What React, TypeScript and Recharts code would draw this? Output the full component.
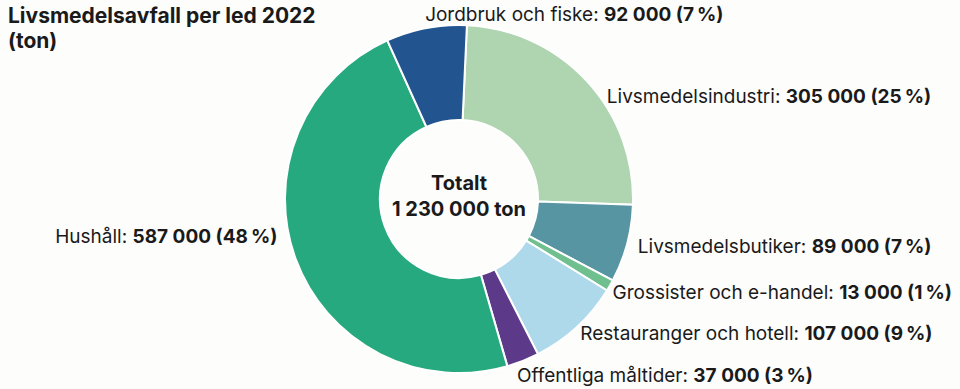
import { PieChart, Pie, Cell } from "recharts";

const categories = [
  "Livsmedelsindustri",
  "Livsmedelsbutiker",
  "Grossister och e-handel",
  "Restauranger och hotell",
  "Offentliga måltider",
  "Hushåll",
  "Jordbruk och fiske",
];
const tons = [305000, 89000, 13000, 107000, 37000, 587000, 92000];
const colors = ["#afd5b0", "#5895a3", "#70c08f", "#aed9ea", "#5c3a89", "#27a97f", "#22548f"];

// small nudges so the labels sit where the original has them
const labelNudge: [number, number][] = [
  [12, 23],
  [0, -1],
  [-7, 1],
  [-4, -2],
  [-10, 4],
  [-8, -27],
  [1, -3],
];

const total = tons.reduce((a, b) => a + b, 0);
const data = categories.map((name, i) => ({ name, value: tons[i] }));

const fmt = (n: number) => n.toLocaleString("en-US").replace(/,/g, "\u00a0");
const FONT = "Inter, 'Noto Sans', sans-serif";
const RAD = Math.PI / 180;

const renderLabel = (p: any) => {
  const { cx, cy, outerRadius, midAngle, index, value } = p;
  const r = outerRadius + 11;
  const left = index === 5;
  const x = cx + r * Math.cos(-midAngle * RAD) + labelNudge[index][0];
  const y = cy + r * Math.sin(-midAngle * RAD) + labelNudge[index][1];
  const pct = Math.round((value / total) * 100);
  return (
    <g>
      <text
        x={x}
        y={y}
        textAnchor={left ? "end" : "start"}
        dominantBaseline="central"
        fontFamily={FONT}
        fontSize={19}
        fill="#1a1a1a"
      >
        <tspan>{categories[index]}: </tspan>
        <tspan fontWeight={700}>
          {fmt(value)} ({pct}
          {"\u2009"}%)
        </tspan>
      </text>
      {index === 0 && (
        <g fontFamily={FONT} fontWeight={700} fontSize={20} fill="#1a1a1a" textAnchor="middle">
          <text x={cx} y={cy - 16} dominantBaseline="central">
            Totalt
          </text>
          <text x={cx} y={cy + 10} dominantBaseline="central">
            {fmt(total)} ton
          </text>
        </g>
      )}
    </g>
  );
};

export default function App() {
  return (
    <div style={{ position: "absolute", left: 0, top: 0, width: 960, height: 389, background: "#fdfdfc" }}>
      <div
        style={{
          position: "absolute",
          left: 8,
          top: 3,
          fontFamily: FONT,
          fontWeight: 700,
          fontSize: 21,
          lineHeight: "25px",
          color: "#1a1a1a",
          zIndex: 1,
        }}
      >
        Livsmedelsavfall per led 2022
        <br />
        (ton)
      </div>
      <PieChart width={960} height={389} margin={{ top: 0, right: 0, bottom: 0, left: 0 }}>
        <Pie
          data={data}
          dataKey="value"
          nameKey="name"
          cx={459}
          cy={199}
          innerRadius={79}
          outerRadius={174}
          startAngle={87.4}
          endAngle={-272.6}
          stroke="#ffffff"
          strokeWidth={2}
          label={renderLabel}
          labelLine={false}
          isAnimationActive={false}
        >
          {data.map((d, i) => (
            <Cell key={d.name} fill={colors[i]} />
          ))}
        </Pie>
      </PieChart>
    </div>
  );
}
